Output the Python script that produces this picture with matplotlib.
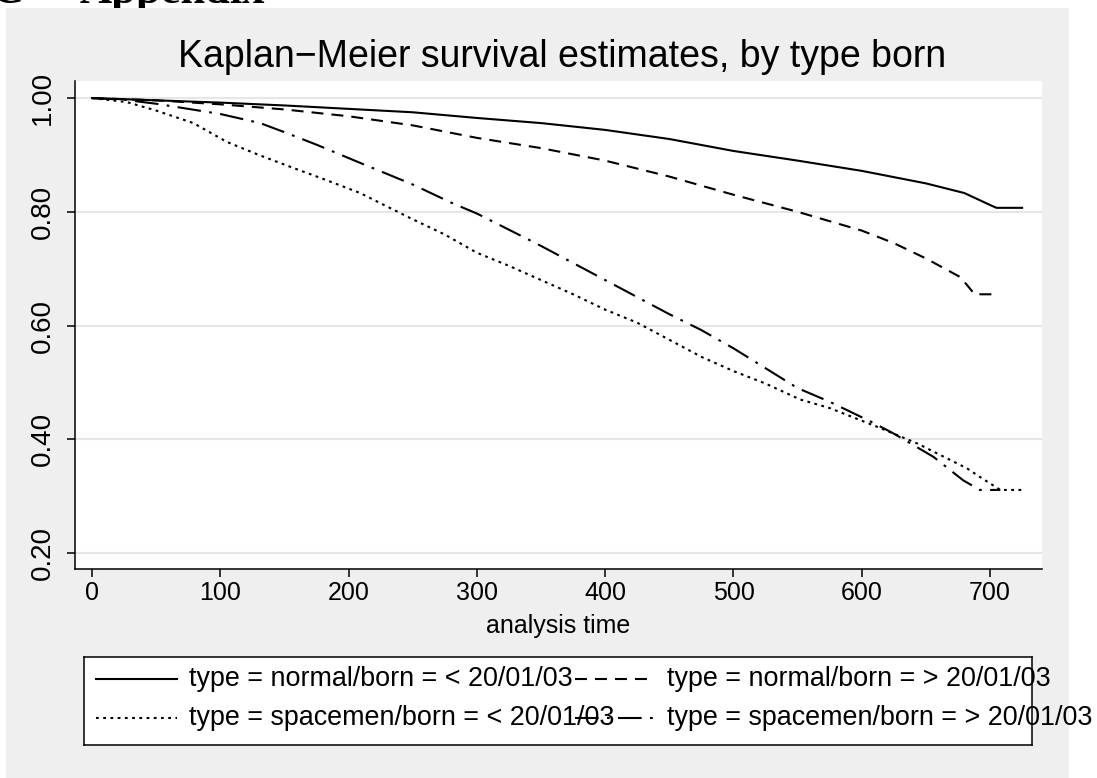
import matplotlib
matplotlib.use("Agg")
import matplotlib.pyplot as plt
from matplotlib.patches import Rectangle

plt.rcParams['font.family'] = ['Liberation Sans', 'DejaVu Sans']
plt.rcParams['lines.scale_dashes'] = False

# Kaplan-Meier curves
normal_before_t = [0, 50, 100, 150, 200, 250, 300, 350, 400, 450, 500, 550, 600, 650, 680, 700, 705, 725]
normal_before_s = [1.0, 0.996, 0.992, 0.987, 0.981, 0.975, 0.965, 0.956, 0.944, 0.928, 0.907, 0.890, 0.872, 0.850, 0.833, 0.812, 0.807, 0.807]

normal_after_t = [0, 50, 100, 150, 200, 250, 300, 350, 400, 450, 500, 550, 600, 625, 650, 677, 688, 705]
normal_after_s = [1.0, 0.996, 0.989, 0.980, 0.968, 0.952, 0.930, 0.912, 0.890, 0.862, 0.830, 0.800, 0.767, 0.745, 0.718, 0.685, 0.655, 0.655]

space_before_t = [0, 27, 50, 79, 105, 130, 157, 180, 209, 248, 275, 300, 325, 350, 375, 400, 425, 450, 475, 500,
                  525, 552, 575, 612, 643, 682, 692, 708, 725]
space_before_s = [1.0, 0.993, 0.978, 0.956, 0.923, 0.900, 0.877, 0.858, 0.833, 0.789, 0.760, 0.728, 0.705, 0.680,
                  0.655, 0.628, 0.605, 0.575, 0.545, 0.520, 0.498, 0.470, 0.455, 0.422, 0.393, 0.349, 0.334, 0.311, 0.311]

space_after_t = [0, 25, 50, 75, 100, 131, 150, 175, 209, 250, 281, 300, 350, 400, 450, 475, 500, 525, 550, 575,
                 609, 625, 656, 679, 692, 708]
space_after_s = [1.0, 0.997, 0.990, 0.981, 0.972, 0.956, 0.940, 0.918, 0.886, 0.848, 0.815, 0.797, 0.740, 0.680,
                 0.620, 0.592, 0.560, 0.525, 0.490, 0.466, 0.429, 0.410, 0.369, 0.328, 0.311, 0.311]

series_t = [normal_before_t, normal_after_t, space_before_t, space_after_t]
series_s = [normal_before_s, normal_after_s, space_before_s, space_after_s]
labels = ['type = normal/born = < 20/01/03', 'type = normal/born = > 20/01/03',
          'type = spacemen/born = < 20/01/03', 'type = spacemen/born = > 20/01/03']
styles = ['-', (0, (8.6, 5.8)), (0, (2.0, 3.2)), (0, (17, 6, 2, 6))]

x_ticks = [0, 100, 200, 300, 400, 500, 600, 700]
y_ticks = [0.2, 0.4, 0.6, 0.8, 1.0]

W, H = 1097, 778
fig = plt.figure(figsize=(W / 100, H / 100), dpi=100)
fig.patch.set_facecolor('white')

# stata grey background panel + clipped heading from the page above
fig.add_artist(Rectangle((6 / W, 0), (1069 - 6) / W, (H - 8) / H, transform=fig.transFigure,
                         facecolor='#efefef', edgecolor='none', zorder=-1))
fig.text(-8 / W, 1 - 3 / H, 'C', fontsize=32, fontweight='bold', family='Liberation Serif',
         va='baseline', ha='left', zorder=-2)
fig.text(80 / W, 1 - 3 / H, 'Appendix', fontsize=32, fontweight='bold', family='Liberation Serif',
         va='baseline', ha='left', zorder=-2)

ax = fig.add_axes([75 / W, (H - 569) / H, (1042 - 75) / W, (569 - 81) / H])
ax.set_facecolor('white')
for t, s, st in zip(series_t, series_s, styles):
    ax.plot(t, s, color='black', linestyle=st, linewidth=1.5)

ax.set_xlim(-13.3, 740.5)
ax.set_ylim(0.172, 1.030)
ax.set_xticks(x_ticks)
ax.set_yticks(y_ticks)
ax.set_yticklabels([f'{v:.2f}' for v in y_ticks], rotation=90, va='center')
ax.grid(axis='y', color='#e6e6e6', linewidth=1.5)
ax.set_axisbelow(True)
for side in ['top', 'right']:
    ax.spines[side].set_visible(False)
for side in ['left', 'bottom']:
    ax.spines[side].set_linewidth(1.1)
ax.tick_params(axis='both', length=6, width=1.1)
ax.tick_params(axis='y', pad=8, labelsize=20)
ax.tick_params(axis='x', pad=3, labelsize=18)
ax.set_xlabel('analysis time', fontsize=18, labelpad=6)

fig.text(562 / W, 1 - 57 / H, 'Kaplan\u2212Meier survival estimates, by type born',
         fontsize=27, ha='center', va='center')

# legend box, stata style (text runs past the frame)
lx0, lx1, ly0, ly1 = 84, 1032, 657, 745
lax = fig.add_axes([lx0 / W, (H - ly1) / H, (lx1 - lx0) / W, (ly1 - ly0) / H])
lax.set_xlim(lx0, lx1)
lax.set_ylim(ly1, ly0)
lax.set_xticks([])
lax.set_yticks([])
lax.set_facecolor('white')
for sp in lax.spines.values():
    sp.set_linewidth(1.1)
rows = [679, 718]
handle_x = [(96, 177), (575, 655)]
text_x = [189, 667]
for i, (lab, st) in enumerate(zip(labels, styles)):
    r, c = divmod(i, 2)
    lax.plot(handle_x[c], [rows[r], rows[r]], color='black', linestyle=st, linewidth=1.5, clip_on=False)
    lax.text(text_x[c], rows[r], lab, fontsize=19.4, va='center', ha='left', clip_on=False)

fig.savefig('out.png', dpi=100)
